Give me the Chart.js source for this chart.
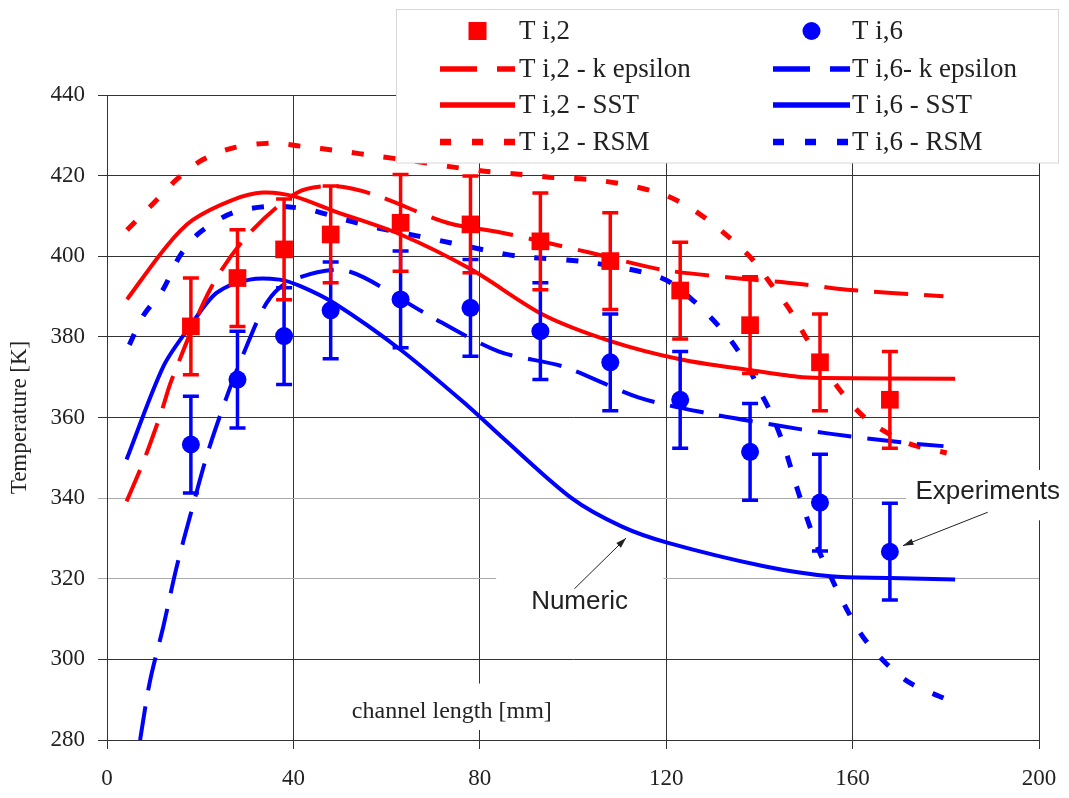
<!DOCTYPE html>
<html>
<head>
<meta charset="utf-8">
<script src="https://cdn.jsdelivr.net/npm/chart.js@4.4.0/dist/chart.umd.min.js"></script>
<style>
html, body { margin: 0; padding: 0; background: #fff; }
#wrap { width: 1069px; height: 798px; }
</style>
</head>
<body>
<div id="wrap"><canvas id="chart" width="1069" height="798"></canvas></div>
<script>
// measured points (channel length in mm, temperature in K)
const xExp = [18, 28, 38, 48, 63, 78, 93, 108, 123, 138, 153, 168];
const ti2Exp = [382.6, 394.6, 401.7, 405.4, 408.3, 407.9, 403.7, 398.8, 391.5, 382.9, 373.7, 364.4];
const ti2Err = [12, 12, 12.5, 12, 12, 12, 12, 12, 12, 12, 12, 12];
const ti6Exp = [353.3, 369.4, 380.2, 386.6, 389.3, 387.2, 381.4, 373.7, 364.4, 351.5, 338.9, 326.7];
const ti6Err = [12, 12, 12, 12, 12, 12, 12, 12, 12, 12, 12, 12];

// numeric curves
const ti2KeX = [4.2, 7.1, 9.2, 11.7, 13.9, 22.1, 30, 40.7, 48.6, 57.3, 73, 84.5, 104, 119, 134.6, 148.2, 158.8, 179.5];
const ti2KeY = [339.2, 347, 353.3, 361.5, 369.4, 391.7, 405, 415.7, 417.4, 415.3, 408.3, 405.9, 400.8, 396.7, 394.6, 393.2, 391.7, 390.1];

const ti6KeX = [7.1, 9.2, 12.1, 14.9, 18.2, 21.7, 26, 29.5, 34.3, 39, 49.3, 55.2, 68.8, 84, 98, 114, 129, 143, 155, 170.7, 179.5];
const ti6KeY = [280, 294.5, 308.2, 322.7, 337.1, 351.6, 366.1, 376.4, 388.5, 393.7, 396.7, 394.7, 385.5, 376.4, 372.6, 365, 361, 358.2, 356, 353.8, 352.9];

const ti2SstX = [4.3, 12.8, 18.4, 27, 33.4, 40, 48.7, 63, 78.2, 93.6, 108.2, 123.2, 138.3, 148.2, 153.2, 182];
const ti2SstY = [389.3, 402.5, 409, 414, 415.8, 414.9, 411.2, 405.4, 396.7, 385.5, 378.9, 374.4, 371.7, 370.1, 369.8, 369.6];

const ti6SstX = [4.2, 12.1, 17.8, 23.5, 30.6, 37, 41.5, 48.7, 63, 77.5, 84.6, 99.7, 110.4, 120.4, 141, 155.3, 168.1, 182];
const ti6SstY = [349.6, 372.7, 382.6, 390.9, 394.2, 394.2, 392.6, 388.4, 376.8, 362.8, 355.3, 340, 333, 328.9, 323.1, 320.6, 320.2, 319.8];

const ti2RsmX = [4.3, 10.7, 14.9, 20.6, 27.1, 35.6, 41.6, 50.2, 58, 66, 73.2, 81, 89, 96, 104, 111.1, 119.5, 126, 133.2, 138.5, 142.8, 146.7, 150.3, 156.7, 163.1, 171.7, 180.2];
const ti2RsmY = [406.5, 414, 419, 424, 426.9, 428.1, 427.3, 426.1, 424.8, 423.6, 422.3, 421.1, 420.3, 419.5, 419, 417.8, 415.3, 411.4, 405, 399.2, 392.6, 386.4, 379.3, 367.7, 359.5, 353.7, 351.2];

const ti6RsmX = [4.8, 7.7, 12, 15.6, 19.8, 27, 35.6, 43.1, 51, 58.1, 66.8, 73.9, 82.5, 88.3, 104, 119, 126, 133.2, 137.5, 140.3, 142.5, 145.3, 147.5, 149.6, 152.4, 155.6, 158.8, 162.4, 167.1, 172.4, 179.5];
const ti6RsmY = [378, 385.1, 391.7, 400, 405.8, 410.8, 412.4, 411.6, 409.1, 407, 405, 403.3, 401.2, 400, 398.4, 394.6, 388.8, 380.1, 372.7, 366.1, 361.1, 352.9, 344.6, 337.1, 328, 319.8, 312.3, 305.3, 299.1, 294.1, 290.4];

const xTicks = [0, 40, 80, 120, 160, 200];
const yTicks = [280, 300, 320, 340, 360, 380, 400, 420, 440];

const RED = 'rgb(255,0,0)';
const BLUE = 'rgb(0,0,255)';
const SERIF = "'Liberation Serif', 'DejaVu Serif', serif";
const SANS = "'Liberation Sans', Arial, sans-serif";

function pts(xs, ys) {
    return xs.map((x, i) => ({ x: x, y: ys[i] }));
}

function curve(label, xs, ys, color, dash, width) {
    return {
        label: label,
        data: pts(xs, ys),
        showLine: true,
        borderColor: color,
        backgroundColor: color,
        borderWidth: width,
        borderDash: dash,
        borderCapStyle: 'butt',
        pointRadius: 0,
        tension: 0.3
    };
}

const KE_DASH = [34, 16];
const RSM_DASH = [12, 20];

const datasets = [
    { label: 'T i,2', data: pts(xExp, ti2Exp), errors: ti2Err, pointStyle: 'rect', pointRadius: 12.5,
      borderColor: RED, backgroundColor: RED, borderWidth: 0, showLine: false },
    { label: 'T i,6', data: pts(xExp, ti6Exp), errors: ti6Err, pointStyle: 'circle', pointRadius: 9,
      borderColor: BLUE, backgroundColor: BLUE, borderWidth: 0, showLine: false },
    curve('T i,2 - k epsilon', ti2KeX, ti2KeY, RED, KE_DASH, 4),
    curve('T i,6- k epsilon', ti6KeX, ti6KeY, BLUE, KE_DASH, 4),
    curve('T i,2 - SST', ti2SstX, ti2SstY, RED, [], 4),
    curve('T i,6 - SST', ti6SstX, ti6SstY, BLUE, [], 4),
    curve('T i,2 - RSM', ti2RsmX, ti2RsmY, RED, RSM_DASH, 5),
    curve('T i,6 - RSM', ti6RsmX, ti6RsmY, BLUE, RSM_DASH, 5)
];

// error bars, drawn right before their marker dataset
const errorBars = {
    id: 'errorBars',
    beforeDatasetDraw(chart, args) {
        const ds = chart.data.datasets[args.index];
        if (!ds.errors) return;
        const ctx = chart.ctx;
        const sx = chart.scales.x, sy = chart.scales.y;
        ctx.save();
        ctx.strokeStyle = ds.borderColor;
        ctx.lineWidth = 3.5;
        ds.data.forEach((p, i) => {
            const px = sx.getPixelForValue(p.x);
            const top = sy.getPixelForValue(p.y + ds.errors[i]);
            const bot = sy.getPixelForValue(p.y - ds.errors[i]);
            ctx.beginPath();
            ctx.moveTo(px, top); ctx.lineTo(px, bot);
            ctx.moveTo(px - 8, top); ctx.lineTo(px + 8, top);
            ctx.moveTo(px - 8, bot); ctx.lineTo(px + 8, bot);
            ctx.stroke();
        });
        ctx.restore();
    }
};

function arrow(ctx, x1, y1, x2, y2) {
    const a = Math.atan2(y2 - y1, x2 - x1);
    ctx.beginPath();
    ctx.moveTo(x1, y1); ctx.lineTo(x2, y2);
    ctx.stroke();
    ctx.beginPath();
    ctx.moveTo(x2, y2);
    ctx.lineTo(x2 - 11 * Math.cos(a - 0.3), y2 - 11 * Math.sin(a - 0.3));
    ctx.lineTo(x2 - 11 * Math.cos(a + 0.3), y2 - 11 * Math.sin(a + 0.3));
    ctx.closePath();
    ctx.fill();
}

// text notes inside the plot: axis title, Numeric / Experiments
const notes = {
    id: 'notes',
    afterDatasetsDraw(chart) {
        const ctx = chart.ctx;
        const sx = chart.scales.x, sy = chart.scales.y;
        const X = v => sx.getPixelForValue(v), Y = v => sy.getPixelForValue(v);
        ctx.save();
        ctx.fillStyle = '#fff';
        ctx.fillRect(X(49), Y(294), X(99) - X(49), Y(282.5) - Y(294));
        ctx.fillRect(X(83.5), Y(326), X(119.4) - X(83.5), Y(309) - Y(326));
        ctx.fillRect(X(171.5), Y(347), 1069 - X(171.5), Y(334.5) - Y(347));

        ctx.fillStyle = '#222';
        ctx.textAlign = 'center';
        ctx.textBaseline = 'middle';
        ctx.font = '24px ' + SERIF;
        ctx.fillText('channel length [mm]', X(74), Y(287));
        ctx.font = '26px ' + SANS;
        ctx.fillText('Numeric', X(101.4), Y(314.3));
        ctx.fillText('Experiments', X(189), Y(341.5));

        ctx.strokeStyle = '#222';
        ctx.lineWidth = 1;
        arrow(ctx, X(100.3), Y(317.5), X(111.4), Y(330.1));
        arrow(ctx, X(189), Y(336.5), X(170.8), Y(328.2));
        ctx.restore();
    }
};

// legend box laid out in two columns like the original
const legendBox = {
    id: 'legendBox',
    afterDraw(chart) {
        const ctx = chart.ctx;
        const ds = chart.data.datasets;
        const colSample = [[440, 515], [773, 850]];
        const colText = [519, 852];
        const rows = [31, 69, 105, 142];
        ctx.save();
        ctx.fillStyle = '#fff';
        ctx.fillRect(396, 9, 662, 154);
        ctx.strokeStyle = '#d8d8d8';
        ctx.lineWidth = 1;
        ctx.strokeRect(396.5, 9.5, 662, 153.5);
        ds.forEach((d, i) => {
            const col = i % 2, row = Math.floor(i / 2);
            const y = rows[row];
            const [s0, s1] = colSample[col];
            if (d.showLine) {
                ctx.strokeStyle = d.borderColor;
                ctx.lineWidth = d.borderWidth + 1.5;
                ctx.setLineDash(d.borderDash.length ? (d.borderWidth > 4 ? [11, 21] : [37, 20]) : []);
                ctx.beginPath();
                ctx.moveTo(s0, y); ctx.lineTo(s1, y);
                ctx.stroke();
                ctx.setLineDash([]);
            } else {
                ctx.fillStyle = d.backgroundColor;
                const cx = (s0 + s1) / 2;
                ctx.beginPath();
                if (d.pointStyle === 'rect') ctx.rect(cx - 9, y - 9, 18, 18);
                else ctx.arc(cx, y, 9, 0, Math.PI * 2);
                ctx.fill();
            }
            ctx.fillStyle = '#222';
            ctx.font = '27px ' + SERIF;
            ctx.textAlign = 'left';
            ctx.textBaseline = 'middle';
            ctx.fillText(d.label, colText[col], y + 1);
        });
        ctx.restore();
    }
};

new Chart(document.getElementById('chart'), {
    type: 'scatter',
    data: { datasets: datasets },
    plugins: [errorBars, notes, legendBox],
    options: {
        responsive: false,
        animation: false,
        layout: { padding: { top: 95, right: 30, left: 0, bottom: 0 } },
        plugins: {
            legend: { display: false },
            tooltip: { enabled: false }
        },
        scales: {
            x: {
                type: 'linear',
                min: xTicks[0],
                max: xTicks[xTicks.length - 1],
                afterBuildTicks: s => { s.ticks = xTicks.map(v => ({ value: v })); },
                afterFit: s => { s.height = 58; s.paddingRight = 0; s.paddingLeft = 0; },
                grid: { color: '#333', lineWidth: 1, tickLength: 9 },
                border: { color: '#333' },
                ticks: { color: '#222', font: { family: SERIF, size: 23 }, padding: 16, maxRotation: 0 }
            },
            y: {
                type: 'linear',
                min: yTicks[0],
                max: yTicks[yTicks.length - 1],
                afterBuildTicks: s => { s.ticks = yTicks.map(v => ({ value: v })); },
                afterFit: s => { s.width = 107; s.paddingTop = 0; s.paddingBottom = 0; },
                grid: {
                    color: c => (c.tick && (c.tick.value === 320 || c.tick.value === 340)) ? '#aaa' : '#333',
                    lineWidth: 1,
                    tickLength: 9
                },
                border: { color: '#333' },
                title: { display: true, text: 'Temperature [K]', color: '#222', font: { family: SERIF, size: 23 }, padding: { top: 6 } },
                ticks: { color: '#222', font: { family: SERIF, size: 23 }, padding: 13 }
            }
        }
    }
});
</script>
</body>
</html>
